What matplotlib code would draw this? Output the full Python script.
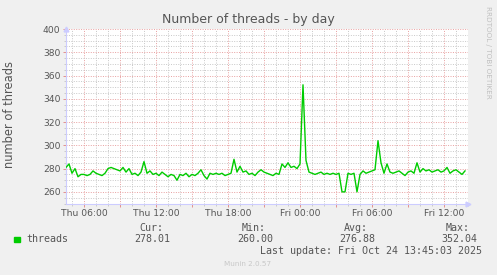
import matplotlib
matplotlib.use("Agg")
import matplotlib.pyplot as plt
from matplotlib.ticker import MultipleLocator, FuncFormatter

# hours since Thu 00:00, one sample every 15 min, from 04:30 Thu
start_hour = 4.5
step_hours = 0.25
threads = [
    281, 284, 276, 280, 273, 275, 275, 274, 275, 278,
    276, 275, 274, 276, 280, 281, 280, 279, 278, 281,
    277, 280, 275, 276, 274, 277, 286, 276, 278, 275,
    276, 274, 277, 275, 273, 275, 274, 270, 275, 274,
    276, 273, 275, 274, 276, 279, 274, 271, 276, 275,
    276, 275, 276, 274, 275, 276, 288, 277, 282, 277,
    278, 275, 276, 274, 277, 279, 277, 276, 275, 274,
    276, 275, 284, 281, 285, 281, 282, 280, 284, 352.04,
    287, 277, 276, 275, 276, 277, 275, 276, 275, 276,
    275, 276, 260, 260, 276, 275, 276, 260, 275, 278,
    276, 277, 278, 279, 304, 285, 276, 284, 277, 276,
    277, 278, 276, 274, 277, 278, 276, 285, 277, 280,
    278, 279, 277, 278, 279, 277, 278, 281, 276, 278,
    279, 277, 275, 278.01,
]
hours = [start_hour + i * step_hours for i in range(len(threads))]

legend_heads = ["Cur:", "Min:", "Avg:", "Max:"]
legend_vals = ["278.01", "260.00", "276.88", "352.04"]

W, H = 497, 275
BG = "#f0f0f0"
TXT = "#555555"
GREEN = "#00cc00"


def fx(px):
    return px / W


def fy(py):
    return 1 - py / H


def time_label(t, pos):
    if t % 6 != 0:
        return ""
    day = "Thu" if t < 24 else "Fri"
    return "%s %02d:00" % (day, int(t % 24))


fig = plt.figure(figsize=(W / 100, H / 100), dpi=100, facecolor=BG)
ax = fig.add_axes([fx(66), fy(203.5), fx(468 - 66), (203.5 - 29) / H])
ax.set_facecolor("white")

ax.plot(hours, threads, color=GREEN, lw=1.0, zorder=3)

ax.set_xlim(4.5, 4.5 + (468 - 66) / 12)
ax.set_ylim(250, 400)

ax.xaxis.set_major_locator(MultipleLocator(3))
ax.xaxis.set_minor_locator(MultipleLocator(1))
ax.xaxis.set_major_formatter(FuncFormatter(time_label))
ax.yaxis.set_major_locator(MultipleLocator(20))
ax.yaxis.set_minor_locator(MultipleLocator(5))

ax.grid(which="minor", color="#c8c8c8", lw=0.7, ls=(0, (1, 1.5)), zorder=1)
ax.grid(which="major", color="#e8a0a0", lw=0.7, ls=(0, (1, 1.5)), zorder=2)

ax.tick_params(which="major", length=2, width=0.6, color="#e08080",
               labelsize=6.6, labelcolor=TXT, pad=2)
ax.tick_params(which="minor", length=1.5, width=0.5, color="#bbbbbb")

for s in ["top", "right"]:
    ax.spines[s].set_visible(False)
for s in ["left", "bottom"]:
    ax.spines[s].set_color("#ccccff")
    ax.spines[s].set_linewidth(0.8)
ax.plot([0], [1.0], marker="^", ms=3.5, color="#ccccff", transform=ax.transAxes,
        clip_on=False)
ax.plot([1.0], [0], marker=">", ms=3.5, color="#ccccff", transform=ax.transAxes,
        clip_on=False)

fig.text(fx(248), fy(19), "Number of threads - by day", ha="center", va="center",
         fontsize=9, color=TXT)
fig.text(fx(10), fy(115), "number of threads", rotation=90, ha="center",
         va="center", fontsize=8.3, color=TXT)
fig.text(fx(488), fy(52), "RRDTOOL / TOBI OETIKER", rotation=270, ha="center",
         va="center", fontsize=5.2, color="#c0c0c0")

mono = "DejaVu Sans Mono"
head_right = [163, 266, 368, 470]
val_right = [170, 273, 375, 477]
for h, v, hx, vx in zip(legend_heads, legend_vals, head_right, val_right):
    fig.text(fx(hx), fy(228), h, ha="right", va="center", family=mono,
             fontsize=7.2, color=TXT)
    fig.text(fx(vx), fy(239.5), v, ha="right", va="center", family=mono,
             fontsize=7.2, color=TXT)

fig.patches.append(plt.Rectangle((fx(14), fy(242)), fx(5.5), 5.5 / H,
                                 transform=fig.transFigure, color=GREEN))
fig.text(fx(26.5), fy(239.5), "threads", ha="left", va="center", family=mono,
         fontsize=7.2, color=TXT)
fig.text(fx(482), fy(251), "Last update: Fri Oct 24 13:45:03 2025", ha="right",
         va="center", family=mono, fontsize=7.2, color=TXT)
fig.text(fx(248), fy(264), "Munin 2.0.57", ha="center", va="center",
         fontsize=5.2, color="#c8c8c8")

fig.savefig("out.png", dpi=100, facecolor=BG)
